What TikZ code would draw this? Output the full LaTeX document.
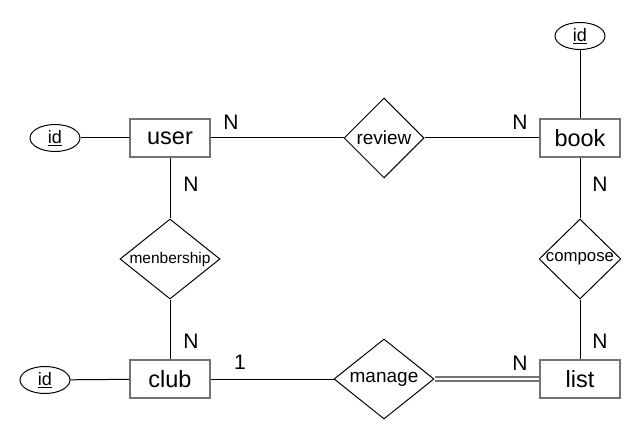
\documentclass[tikz,border=0pt]{standalone}
\usepackage{fontspec}
\setmainfont{Liberation Sans}
\usetikzlibrary{shapes,shapes.geometric}
\definecolor{entborder}{gray}{0.45}
\tikzset{
  entity/.style={
      draw=entborder,
      line width=1.6pt,
      rectangle,
      minimum width=80pt,
      minimum height=38pt,
      inner sep=0pt,
      font=\fontsize{23.5}{28}\selectfont
  },
  relation/.style={
      draw,
      diamond,
      line width=1pt,
      minimum width=80pt,
      minimum height=80pt,
      inner sep=0pt,
      font=\fontsize{19}{22}\selectfont
  },
  attr/.style={
      draw,
      ellipse,
      line width=1pt,
      minimum width=50pt,
      minimum height=27pt,
      inner sep=0pt,
      font=\fontsize{18}{21}\selectfont
  },
  card/.style={inner sep=0pt, font=\fontsize{21}{24}\selectfont},
  link/.style={line width=1pt},
  total/.style={draw=entborder, double, double distance=1.2pt, line width=2pt}
}

\begin{document}
\begin{tikzpicture}[x=1pt,y=-1pt]
	\useasboundingbox (0,0) rectangle (641,441);
	% entities
	\node[entity] (user) at (170,138) {user};
	\node[entity] (book) at (580,138) {book};
	\node[entity] (club) at (170,379) {club};
	\node[entity] (list) at (580,379) {list};
	% relations
	\node[relation] (review) at (384,138) {review};
	\node[relation,aspect=1.25,minimum width=100pt,font=\fontsize{15.5}{18}\selectfont] (member) at (170,259) {menbership};
	\node[relation,aspect=1.1,font=\fontsize{16.8}{20}\selectfont] (compose) at (580,259) {compose};
	\node[relation,aspect=1.25,minimum width=100pt] (manage) at (384,379) {manage};
	% keys
	\node[attr] (userid) at (55,138) {\underline{id}};
	\node[attr] (bookid) at (580,36) {\underline{id}};
	\node[attr] (clubid) at (45,380) {\underline{id}};
	% links
	\draw[link] (userid) -- (user);
	\draw[link] (bookid) -- (book);
	\draw[link] (clubid) -- (club);
	\draw[link] (user) -- (review);
	\draw[link] (review) -- (book);
	\draw[link] (user) -- (member);
	\draw[link] (member) -- (club);
	\draw[link] (book) -- (compose);
	\draw[link] (compose) -- (list);
	\draw[link] (club) -- (manage);
	\draw[total] (manage) -- (list);
	% cardinalities
	\node[card] (nuserr) at (231,122) {N};
	\node[card] (nbookr) at (520,122) {N};
	\node[card] (nuserm) at (191,184) {N};
	\node[card] (nclubm) at (191,341) {N};
	\node[card] (nbookc) at (600,184) {N};
	\node[card] (nlistc) at (600,341) {N};
	\node[card] (oneclub) at (240,362) {1};
	\node[card] (nlistm) at (520,363) {N};
\end{tikzpicture}
\end{document}
